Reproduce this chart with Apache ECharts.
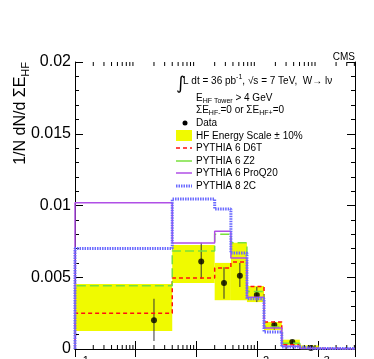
<!DOCTYPE html>
<html>
<head>
<meta charset="utf-8">
<script src="https://cdn.jsdelivr.net/npm/echarts@6/dist/echarts.min.js"></script>
<style>
html,body{margin:0;padding:0;background:#fff}
#chart{width:374px;height:359px}
</style>
</head>
<body>
<div id="chart"></div>
<script>
// bin edges of Sum E_HF (GeV), first edge clipped at axis min
var binEdges = [0.1, 4, 20, 37, 68, 130, 255, 505, 1030, 4100];
// data points
var dataX = [2, 12, 28.5, 52, 99, 192, 380, 768];
var dataY = [0.0020, 0.0061, 0.0046, 0.0051, 0.00376, 0.00167, 0.00049, 0.00007];
var dataErrLo = [0.00056, 0.0049, 0.0035, 0.00432, 0.00327, 0.00135, 0.0004, 0.00003];
var dataErrHi = [0.0035, 0.0074, 0.0057, 0.0060, 0.00432, 0.00195, 0.0006, 0.00012];
// HF energy scale band
var bandLo = [0.00125, 0.0046, 0.0034, 0.0034, 0.00327, 0.00132, 0.00028, 0.0];
var bandHi = [0.00453, 0.00725, 0.0060, 0.0074, 0.00439, 0.00188, 0.00065, 0.00025];
// MC predictions per bin
var d6t = [0.0025, 0.00495, 0.00564, 0.00606, 0.00435, 0.00188, 0.0003, 0.00005, 0.00001];
var z2 = [0.0044, 0.00683, 0.0080, 0.0074, 0.0040, 0.00153, 0.0004, 0.00004, 0.00001];
var proq20 = [0.0102, 0.00739, 0.0082, 0.00634, 0.0036, 0.00146, 0.0002, 0.00003, 0.00002];
var p8_2c = [0.0070, 0.01045, 0.00976, 0.00669, 0.0035, 0.00118, 0.00014, 0.00003, 0.00003];

var xMin = 0.1, xMax = 4100, yMin = 0, yMax = 0.02;

// log minor ticks 2..9 per decade
var minorTicks = [];
for (var e = -1; e <= 3; e++) {
    for (var k = 2; k <= 9; k++) {
        var v = k * Math.pow(10, e);
        if (v < xMax) minorTicks.push([v, 0]);
    }
}

function stepPoints(vals) {
    var pts = [[binEdges[0], 0]];
    for (var i = 0; i < vals.length; i++) {
        pts.push([binEdges[i], vals[i]]);
        pts.push([binEdges[i + 1], vals[i]]);
    }
    return pts;
}

function stepSeries(name, vals, color, width, type) {
    return {
        name: name, type: 'line', data: stepPoints(vals),
        symbol: 'none', xAxisIndex: 0, yAxisIndex: 0,
        lineStyle: {color: color, width: width, type: type},
        silent: true
    };
}

var colRed = '#ff1010', colGreen = '#78e03c', colViolet = '#b04fe6', colBlue = '#6a6aff', colYellow = '#f0fa00';

var myChart = echarts.init(document.getElementById('chart'));

var axisLineStyle = {show: true, lineStyle: {color: '#000', width: 1}};

var option = {
    animation: false,
    backgroundColor: '#fff',
    grid: {left: 75, right: 19, top: 62, bottom: 10, containLabel: false, outerBoundsMode: 'none'},
    xAxis: [
        {
            type: 'log', logBase: 10, min: xMin, max: xMax, position: 'bottom',
            axisLine: axisLineStyle,
            axisTick: {show: true, inside: true, length: 8, lineStyle: {color: '#000'}},
            splitLine: {show: false},
            axisLabel: {
                show: true, showMinLabel: true, showMaxLabel: false, margin: 6,
                color: '#000', fontFamily: 'Liberation Sans', fontSize: 16,
                formatter: function (val) {
                    var p = Math.round(Math.log(val) / Math.LN10);
                    if (p === 0) return '{b|1}';
                    if (p === 1) return '{b|10}';
                    return '{b|10}{s|' + p + '}';
                },
                rich: {
                    b: {fontSize: 16, lineHeight: 24, verticalAlign: 'bottom', fontFamily: 'Liberation Sans', color: '#000'},
                    s: {fontSize: 11, lineHeight: 11, verticalAlign: 'top', fontFamily: 'Liberation Sans', color: '#000'}
                }
            }
        },
        {
            type: 'log', logBase: 10, min: xMin, max: xMax, position: 'top',
            axisLine: axisLineStyle,
            axisTick: {show: true, inside: true, length: 8, lineStyle: {color: '#000'}},
            splitLine: {show: false},
            axisLabel: {show: false}
        }
    ],
    yAxis: [
        {
            type: 'value', min: yMin, max: yMax, interval: 0.005, position: 'left',
            axisLine: axisLineStyle,
            axisTick: {show: true, inside: true, length: 8, lineStyle: {color: '#000'}},
            minorTick: {show: true, splitNumber: 5, length: 4, lineStyle: {color: '#000'}},
            splitLine: {show: false},
            axisLabel: {margin: 4, color: '#000', fontFamily: 'Liberation Sans', fontSize: 16}
        },
        {
            type: 'value', min: yMin, max: yMax, interval: 0.005, position: 'right',
            axisLine: axisLineStyle,
            axisTick: {show: true, inside: true, length: 8, lineStyle: {color: '#000'}},
            minorTick: {show: true, splitNumber: 5, length: 4, lineStyle: {color: '#000'}},
            splitLine: {show: false},
            axisLabel: {show: false}
        }
    ],
    series: [
        {
            // HF energy scale band
            type: 'custom', xAxisIndex: 0, yAxisIndex: 0, silent: true,
            data: bandLo.map(function (lo, i) { return [binEdges[i], binEdges[i + 1], lo, bandHi[i]]; }),
            encode: {x: [0, 1], y: [2, 3]},
            renderItem: function (params, api) {
                var p0 = api.coord([api.value(0), api.value(3)]);
                var p1 = api.coord([api.value(1), api.value(2)]);
                return {type: 'rect', shape: {x: p0[0], y: p0[1], width: p1[0] - p0[0], height: p1[1] - p0[1]},
                    style: {fill: colYellow}};
            }
        },
        stepSeries('PYTHIA 6 D6T', d6t, colRed, 1.5, [4, 3]),
        stepSeries('PYTHIA 6 Z2', z2, colGreen, 1.5, [9, 4]),
        stepSeries('PYTHIA 6 ProQ20', proq20, colViolet, 1.5, 'solid'),
        stepSeries('PYTHIA 8 2C', p8_2c, colBlue, 3, [1.5, 1]),
        {
            // error bars
            type: 'custom', xAxisIndex: 0, yAxisIndex: 0, silent: true,
            data: dataX.map(function (x, i) { return [x, dataErrLo[i], dataErrHi[i]]; }),
            encode: {x: 0, y: [1, 2]},
            renderItem: function (params, api) {
                var a = api.coord([api.value(0), api.value(1)]);
                var b = api.coord([api.value(0), api.value(2)]);
                return {type: 'line', shape: {x1: a[0], y1: a[1], x2: b[0], y2: b[1]},
                    style: {stroke: '#333', lineWidth: 1}};
            }
        },
        {
            name: 'Data', type: 'scatter', xAxisIndex: 0, yAxisIndex: 0, silent: true,
            data: dataX.map(function (x, i) { return [x, dataY[i]]; }),
            symbol: 'circle', symbolSize: 6,
            itemStyle: {color: '#000'}
        },
        {
            // log minor ticks on bottom and top axes
            type: 'custom', xAxisIndex: 0, yAxisIndex: 0, silent: true,
            data: minorTicks, encode: {x: 0, y: 1},
            renderItem: function (params, api) {
                var b = api.coord([api.value(0), yMin]);
                var t = api.coord([api.value(0), yMax]);
                return {type: 'group', children: [
                    {type: 'line', shape: {x1: b[0], y1: b[1], x2: b[0], y2: b[1] - 4}, style: {stroke: '#000', lineWidth: 1}},
                    {type: 'line', shape: {x1: t[0], y1: t[1], x2: t[0], y2: t[1] + 4}, style: {stroke: '#000', lineWidth: 1}}
                ]};
            }
        }
    ],
    graphic: [
        {type: 'text', x: 355, y: 57, style: {text: 'CMS', align: 'right', verticalAlign: 'middle',
            font: '10px "Liberation Sans"', fill: '#000'}},
        {type: 'text', x: 21, y: 62, rotation: Math.PI / 2, style: {
            text: '1/N dN/d ΣE{s|HF}', align: 'right', verticalAlign: 'middle',
            fontFamily: 'Liberation Sans', fontSize: 16, lineHeight: 20, fill: '#000',
            rich: {s: {fontFamily: 'Liberation Sans', fontSize: 11, lineHeight: 11, verticalAlign: 'bottom', fill: '#000'}}
        }},
        {type: 'text', x: 176, y: 84, style: {text: '∫', align: 'left', verticalAlign: 'middle',
            font: '18px "DejaVu Sans"', fill: '#000'}},
        {type: 'text', x: 183, y: 81, style: {
            text: 'L dt = 36 pb{s|-1}, √s = 7 TeV,  W→ lν', align: 'left', verticalAlign: 'middle',
            fontFamily: 'Liberation Sans', fontSize: 10, lineHeight: 14, fill: '#000',
            rich: {s: {fontFamily: 'Liberation Sans', fontSize: 7, lineHeight: 7, verticalAlign: 'top', fill: '#000'}}
        }},
        {type: 'text', x: 196, y: 98, style: {
            text: 'E{s|HF Tower} > 4 GeV', align: 'left', verticalAlign: 'middle',
            fontFamily: 'Liberation Sans', fontSize: 10, lineHeight: 14, fill: '#000',
            rich: {s: {fontFamily: 'Liberation Sans', fontSize: 7, lineHeight: 7, verticalAlign: 'bottom', fill: '#000'}}
        }},
        {type: 'text', x: 196, y: 110, style: {
            text: 'ΣE{s|HF-}=0 or ΣE{s|HF+}=0', align: 'left', verticalAlign: 'middle',
            fontFamily: 'Liberation Sans', fontSize: 10, lineHeight: 14, fill: '#000',
            rich: {s: {fontFamily: 'Liberation Sans', fontSize: 7, lineHeight: 7, verticalAlign: 'bottom', fill: '#000'}}
        }},
        {type: 'circle', shape: {cx: 185, cy: 123, r: 2.5}, style: {fill: '#000'}},
        {type: 'rect', shape: {x: 176, y: 130, width: 16, height: 11}, style: {fill: colYellow}},
        {type: 'line', shape: {x1: 176, y1: 148, x2: 192, y2: 148}, style: {stroke: colRed, lineWidth: 1.5, lineDash: [4, 3]}},
        {type: 'line', shape: {x1: 176, y1: 161, x2: 192, y2: 161}, style: {stroke: colGreen, lineWidth: 1.5}},
        {type: 'line', shape: {x1: 176, y1: 173, x2: 192, y2: 173}, style: {stroke: colViolet, lineWidth: 1.5}},
        {type: 'line', shape: {x1: 176, y1: 186, x2: 192, y2: 186}, style: {stroke: colBlue, lineWidth: 3, lineDash: [1.5, 1]}},
        {type: 'text', x: 196, y: 123, style: {text: 'Data', verticalAlign: 'middle', font: '10px "Liberation Sans"', fill: '#000'}},
        {type: 'text', x: 196, y: 136, style: {text: 'HF Energy Scale ± 10%', verticalAlign: 'middle', font: '10px "Liberation Sans"', fill: '#000'}},
        {type: 'text', x: 196, y: 148, style: {text: 'PYTHIA 6 D6T', verticalAlign: 'middle', font: '10px "Liberation Sans"', fill: '#000'}},
        {type: 'text', x: 196, y: 161, style: {text: 'PYTHIA 6 Z2', verticalAlign: 'middle', font: '10px "Liberation Sans"', fill: '#000'}},
        {type: 'text', x: 196, y: 173, style: {text: 'PYTHIA 6 ProQ20', verticalAlign: 'middle', font: '10px "Liberation Sans"', fill: '#000'}},
        {type: 'text', x: 196, y: 186, style: {text: 'PYTHIA 8 2C', verticalAlign: 'middle', font: '10px "Liberation Sans"', fill: '#000'}}
    ]
};
myChart.setOption(option);
</script>
</body>
</html>
